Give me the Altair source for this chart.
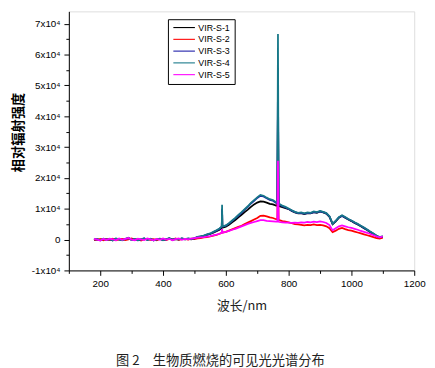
import altair as alt
import pandas as pd

wavelength = list(range(180, 1101, 10))
series_names = ["VIR-S-1", "VIR-S-2", "VIR-S-3", "VIR-S-4", "VIR-S-5"]
colors = ["#000000", "#ff0000", "#1c1ca8", "#177888", "#ff00ff"]

s1 = [0, 50, -150, 200, 0, 100, -200, 250, 50, -100, 150, 400, -50, 100, -150, 50, 300, 0, 150, -200, 0,
      200, -100, 50, 350, 0, 150, 0, 300, 50, 250, 100, 350,
      700, 900, 1100, 1500, 1800, 2200, 2700, 3200, 3900, 4200, 4800, 5600, 6300, 7200, 8000,
      8900, 9700, 10600, 11400, 12000, 12400, 12300, 12000, 11600, 11400, 11000, 10800, 10500, 10200, 9900,
      9300, 8800, 8500, 8600, 8300, 8600, 8500, 8900, 8700, 9100, 8800, 8400, 7400, 5000, 5900,
      7100, 7700, 7100, 6500, 6000, 5400, 4900, 4300, 3700, 3100, 2400, 1800, 1100, 600, 900]
s2 = [-150, -100, 200, -250, 150, -50, 300, -200, 100, 250, -150, 50, 350, -100, 200, -300, 100, 250, -50, 150, -200,
      300, 50, -150, 200, 0, 350, -100, 150, 250, 0, 300, 150,
      400, 500, 700, 800, 1000, 1300, 1500, 1900, 2300, 2500, 2900, 3300, 3700, 4100, 4500,
      5000, 5500, 6000, 6500, 7000, 7700, 7800, 7500, 7200, 7000, 6600, 6300, 6000, 5800, 5600,
      5300, 5000, 4900, 4800, 4600, 4800, 4700, 4900, 4700, 4800, 4600, 4300, 3700, 2400, 2900,
      3500, 3800, 3400, 3100, 2900, 2600, 2300, 2000, 1700, 1400, 1100, 800, 500, 300, 600]
s3 = [50, 100, -200, 250, -50, 150, -250, 300, 50, -150, 200, 500, -100, 150, -200, 100, 350, -50, 200, -250, 50,
      250, -150, 100, 400, 0, 200, 50, 350, 100, 300, 150, 400,
      850, 1000, 1250, 1600, 1900, 2400, 2900, 3500, 4200, 4500, 5200, 6000, 6900, 7800, 8700,
      9700, 10600, 11700, 12600, 13500, 14200, 14000, 13400, 12900, 12600, 11900, 11400, 10800, 10400, 9900,
      9400, 8900, 8600, 8600, 8400, 8600, 8600, 8900, 8800, 9100, 8900, 8500, 7500, 5100, 6000,
      7200, 7700, 7200, 6600, 6100, 5500, 5000, 4400, 3800, 3200, 2500, 1900, 1200, 700, 1000]
s4 = [100, 150, -250, 300, -100, 200, -300, 350, 100, -200, 250, 600, -150, 200, -250, 150, 400, -100, 250, -300, 100,
      300, -200, 150, 450, -50, 250, 100, 400, 150, 350, 200, 450,
      900, 1100, 1300, 1700, 2000, 2500, 3000, 3600, 4300, 4600, 5300, 6200, 7000, 8000, 8900,
      9900, 10800, 11900, 12800, 13700, 14500, 14200, 13600, 13100, 12800, 12100, 11600, 11000, 10600, 10100,
      9500, 9000, 8700, 8800, 8500, 8800, 8700, 9100, 8900, 9300, 9000, 8600, 7600, 5200, 6100,
      7300, 7900, 7300, 6700, 6200, 5600, 5100, 4500, 3900, 3300, 2600, 2000, 1300, 800, 1100]
s5 = [200, 0, -300, 250, -150, 300, 100, -250, 350, -100, 200, 500, 0, -200, 300, 100, -150, 400, 50, -250, 200,
      -100, 350, 0, 250, -200, 150, 400, -50, 200, 100, 350, 500,
      600, 700, 800, 1000, 1100, 1400, 1600, 1900, 2300, 2500, 2800, 3200, 3500, 3900, 4300,
      4700, 5100, 5400, 5700, 6000, 6300, 6300, 6100, 6000, 5900, 5800, 5700, 5600, 5500, 5500,
      5400, 5500, 5400, 5600, 5500, 5700, 5600, 5800, 5700, 5900, 5700, 5400, 4700, 3000, 3700,
      4300, 4600, 4300, 4000, 3800, 3500, 3200, 2800, 2500, 2200, 1800, 1400, 1000, 700, 1000]

# narrow emission lines (Na ~588 nm, K ~766 nm)
spike_wl = [587, 588, 589, 764, 766, 768]
s1_spk = [3800, 9500, 3900, 11000, 45000, 10900]
s2_spk = [2200, 3200, 2300, 6600, 20000, 6500]
s3_spk = [4100, 10000, 4200, 11800, 52000, 11600]
s4_spk = [4250, 11300, 4300, 12000, 66700, 11800]
s5_spk = [2200, 3400, 2300, 5800, 25600, 5800]

rows = []
for name, vals, spk in zip(series_names, [s1, s2, s3, s4, s5],
                           [s1_spk, s2_spk, s3_spk, s4_spk, s5_spk]):
    for w, v in zip(wavelength, vals):
        rows.append({"wl": w, "v": v, "series": name})
    for w, v in zip(spike_wl, spk):
        rows.append({"wl": w, "v": v, "series": name})
df = pd.DataFrame(rows).sort_values(["series", "wl"])

x_ticks = [100, 200, 300, 400, 500, 600, 700, 800, 900, 1000, 1100, 1200]
y_ticks = [-10000, -5000, 0, 5000, 10000, 15000, 20000, 25000, 30000, 35000,
           40000, 45000, 50000, 55000, 60000, 65000, 70000]

chart = alt.Chart(df).mark_line(strokeWidth=1.8, clip=True).encode(
    x=alt.X("wl:Q",
            scale=alt.Scale(domain=[100, 1200], nice=False, zero=False),
            axis=alt.Axis(values=x_ticks, grid=False,
                          labelExpr="datum.value % 200 === 0 ? format(datum.value, 'd') : ''",
                          tickSize={"condition": {"test": "datum.value % 200 === 0", "value": 5}, "value": 3},
                          labelFlush=False, labelOverlap=False,
                          labelFont="Liberation Sans", labelFontSize=10, labelColor="#000",
                          labelPadding=3, domainColor="#000", tickColor="#000",
                          title="波长/nm", titleFont="Noto Sans CJK SC", titleFontSize=13,
                          titleFontWeight="normal", titleColor="#222", titlePadding=12)),
    y=alt.Y("v:Q",
            scale=alt.Scale(domain=[-10000, 74000], nice=False, zero=False),
            axis=alt.Axis(values=y_ticks, grid=False,
                          labelExpr="datum.value % 10000 === 0 ? (datum.value === 0 ? '0' : (datum.value / 10000) + 'x10⁴') : ''",
                          tickSize={"condition": {"test": "datum.value % 10000 === 0", "value": 5}, "value": 3},
                          labelOverlap=False, labelFlush=False,
                          labelFont="Liberation Sans", labelFontSize=10, labelColor="#000",
                          labelPadding=4, domainColor="#000", tickColor="#000",
                          title="相对辐射强度", titleFont="Noto Sans CJK SC", titleFontSize=13.5,
                          titleFontWeight="bold", titleColor="#000", titleAngle=270,
                          titleBaseline="middle", titleAlign="center", titleX=-51, titleY=123)),
    color=alt.Color("series:N",
                    scale=alt.Scale(domain=series_names, range=colors),
                    legend=alt.Legend(title=None, orient="none", legendX=101, legendY=8,
                                      strokeColor="#000", fillColor="#fff", padding=4,
                                      symbolType="M-1,0H6.33", symbolSize=36,
                                      symbolStrokeWidth=1.1, labelOffset=18,
                                      labelFont="Liberation Sans", labelFontSize=9,
                                      labelColor="#000", rowPadding=2)),
).properties(
    width=352, height=264,
    autosize=alt.AutoSizeParams(type="none"),
    padding={"left": 62, "top": 0, "right": 13, "bottom": 96},
    title=alt.TitleParams("图 2　生物质燃烧的可见光光谱分布", orient="bottom", anchor="start",
                          dx=106, offset=42, font="Noto Sans CJK SC", fontSize=13.5,
                          fontWeight="normal", color="#222"),
).configure_view(stroke=None).configure(background="white")

chart.save("out.html", embed_options={"renderer": "svg", "actions": False})
